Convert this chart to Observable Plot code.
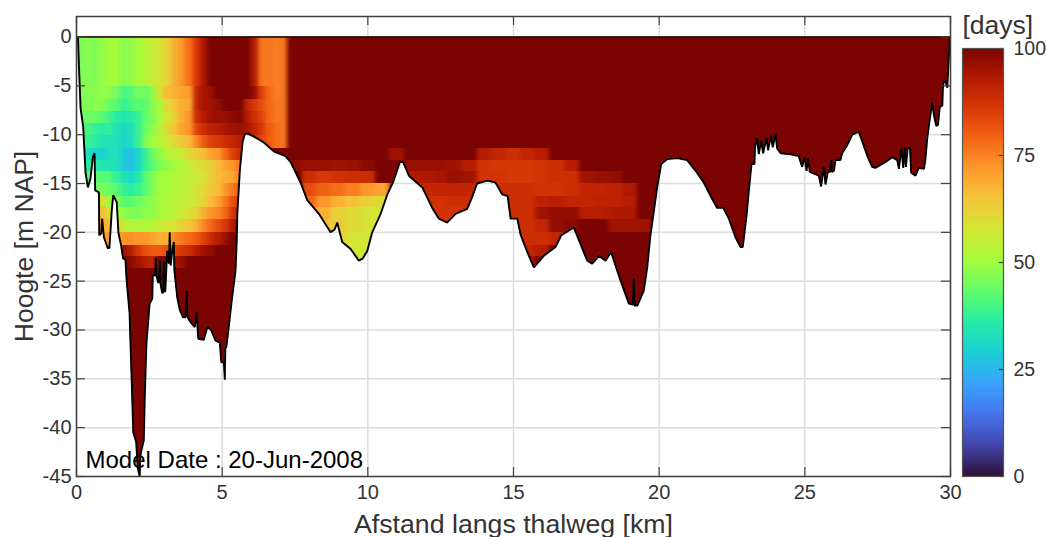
<!DOCTYPE html>
<html><head><meta charset="utf-8">
<style>html,body{margin:0;padding:0;background:#fff;overflow:hidden}#wrap{position:relative;width:1047px;height:537px}#wrap svg{position:absolute;top:0;overflow:visible}</style>
<script src="https://cdn.jsdelivr.net/npm/d3@7"></script>
<script src="https://cdn.jsdelivr.net/npm/@observablehq/plot@0.6"></script>
</head><body><div id="wrap"></div>
<script>
const xTicks=[0,5,10,15,20,25,30];
const yTicks=[0,-5,-10,-15,-20,-25,-30,-35,-40,-45];
const barTicks=[0,25,50,75,100];
const xLabel="Afstand langs thalweg [km]";
const yLabel="Hoogte [m NAP]";
const barLabel="[days]";
const dateLabel="Model Date : 20-Jun-2008";
const colorDomain=[0,7.1,14.3,21.4,28.6,35.7,42.9,50,57.1,64.3,71.4,78.6,85.7,92.9,100];
const colorRange=["#30123b","#4145ab","#4675ed","#39a2fc","#1bcfd4","#24eca6","#61fc6c","#a4fc3b","#d1e834","#f3c63a","#fe9b2d","#f36315","#d93806","#b11901","#7a0402"];

const layerZ=[0,-5.1,-6.4,-7.6,-8.9,-10.1,-11.4,-12.6,-13.8,-15,-16.3,-17.5,-18.7,-20,-21.3,-22.5,-23.7];
const leftEdges=[0,.25,.5,.75,1,1.25,1.5,1.75,2,2.25,2.5,2.75,3,3.25,3.5,3.75,4,4.25,4.5,4.75,5,5.25,5.5,5.75,6,6.25,6.5,6.75,7,7.25];
const leftDays=[
[45,47,46,48,50,50,47,48,50,53,55,58,62,68,72,77,86,93,100,100,100,100,100,100,92,76,76,75,76],
[46,47,47,48,48,45,40,41,45,44,48,58,66,68,70,71,90,94,96,100,100,100,100,100,96,84,78,75,76],
[46,46,47,47,44,42,38,40,42,42,47,50,60,64,68,69,90,94,95,97,100,100,100,90,86,82,78,76,76],
[44,44,44,42,40,36,34,35,38,43,46,50,58,62,68,72,88,92,95,96,96,98,99,92,88,84,78,76,76],
[42,40,38,36,37,34,31,32,38,44,48,52,60,65,70,72,84,88,91,92,94,95,96,94,90,86,80,77,76],
[40,38,36,34,33,33,30,31,38,46,50,52,56,60,64,66,74,80,84,86,88,90,92,93,88,84,80,77,76],
[36,33,30,29,32,33,28,26,30,38,44,48,52,54,56,60,63,66,70,72,78,84,88],
[40,36,36,34,34,33,28,26,30,38,42,46,48,50,52,55,58,60,62,66,70,72,76],
[42,42,42,42,42,38,33,31,35,42,46,50,50,52,53,54,56,58,62,66,68,70,74],
[46,46,44,46,44,42,38,36,38,42,46,50,50,52,53,55,58,60,64,66,72,76,80],
[60,60,60,60,50,46,42,42,44,46,48,50,52,53,54,56,58,62,66,70,76,82,86],
[66,66,66,66,60,50,48,46,46,48,48,50,52,53,56,58,62,68,72,74,78,86,92],
[70,70,70,70,66,62,55,52,52,52,52,55,57,58,62,64,68,74,78,82,86,92,100],
[72,72,72,72,72,72,72,73,72,72,70,68,68,74,76,78,80,84,88,92,96,100,100],
[80,80,80,80,80,82,96,92,86,82,80,80,82,84,86,88,92,95,97,100,100,100,100],
[100,100,100,100,100,100,100,98,95,92,90,100,100,94,96,100,100,100,100,100,100,100,100]
];
const rightEdges=[7.25,7.75,8.25,8.75,9.25,9.75,10.25,10.75,11.25,11.75,12.25,12.75,13.25,13.75,14.25,14.75,15.25,15.75,16.25,16.75,17.25,17.75,18.25,18.75,19.25,19.75,20.25,20.75];
const rightDays=[
[],[],[],[],[],[],
[100,100,100,100,100,100,100,95,100,100,100,100,100,92,90,88,90,92],
[97,96,96,95,96,98,100,100,96,96,96,95,92,87,86,86,86,87,88,92],
[100,88,86,87,88,88,100,100,93,93,94,96,95,87,87,86,86,87,88,88,95,96,97],
[100,82,79,77,75,72,70,92,92,90,90,90,90,88,88,88,88,87,87,88,90,90,91,93],
[100,78,72,68,65,62,60,90,90,88,87,88,88,88,88,88,88,91,92,90,90,91,91,92],
[100,72,68,62,60,58,58,90,90,88,87,87,87,88,88,88,88,95,97,97,92,92,93,93],
[100,70,66,63,60,58,58,90,90,87,87,87,87,88,88,88,88,90,97,98,100,100,95,95,95],
[100,70,66,62,58,57,57,90,90,87,88,88,88,88,88,88,88,88,90],
[100,70,66,60,57,57,57,90,90,90,90,90,90,90,90,90,90,92],
[100,70,66,60,57,57,57,90,90,90,90,90,90,90,90,90,94]
];

const bedX=[.05,.08,.14,.23,.31,.39,.48,.56,.62,.64,.77,.78,.85,.88,.94,1.07,1.13,1.21,1.26,1.38,1.44,1.53,1.6,1.68,1.72,1.82,1.88,1.95,2.05,2.1,2.17,2.19,2.23,2.31,2.34,2.4,2.51,2.6,2.62,2.71,2.72,2.74,2.81,2.86,2.88,2.94,2.97,3,3.02,3.05,3.11,3.17,3.2,3.23,3.28,3.34,3.36,3.46,3.55,3.66,3.74,3.78,3.81,3.94,4.06,4.12,4.18,4.37,4.49,4.62,4.77,4.92,4.97,5.06,5.09,5.11,5.14,5.23,5.32,5.46,5.5,5.52,5.61,5.7,5.78,5.88,6.09,6.43,6.77,7.17,7.35,7.69,7.92,8.32,8.72,8.86,8.95,9.12,9.41,9.69,9.82,9.98,10.15,10.44,10.66,10.89,11.1,11.21,11.41,11.87,12.21,12.44,12.72,13.01,13.41,13.58,13.75,14.1,14.38,14.61,14.8,14.9,15.13,15.24,15.47,15.7,16.04,16.44,16.64,17.07,17.3,17.53,17.7,17.93,18.16,18.35,18.5,18.67,18.96,19.09,19.13,19.15,19.25,19.47,19.59,19.7,19.82,19.93,20.07,20.28,20.62,20.96,21.25,21.53,21.82,21.99,22.2,22.39,22.62,22.79,22.87,23,23.08,23.17,23.27,23.29,23.36,23.42,23.5,23.57,23.68,23.74,23.84,23.9,23.99,24.05,24.17,24.51,24.79,24.91,24.99,25.06,25.11,25.17,25.31,25.48,25.56,25.65,25.71,25.79,25.88,25.91,25.93,26,26.05,26.22,26.28,26.45,26.63,26.85,27.02,27.16,27.31,27.42,27.77,28,28.17,28.23,28.31,28.38,28.42,28.47,28.53,28.61,28.65,28.8,28.91,29.09,29.14,29.2,29.29,29.37,29.43,29.51,29.57,29.63,29.72,29.74,29.77,29.83,29.89,29.92,29.96,29.98];
const bedZ=[0,-2.7,-7.3,-9.2,-13.9,-15.4,-14.5,-12.3,-11.9,-15.7,-15.9,-20.3,-20.1,-18.6,-20.5,-21.6,-21.6,-17.8,-16.2,-16.9,-20.1,-21.3,-22.7,-22.8,-24.9,-28.2,-33.8,-40.5,-41.5,-44.1,-45,-42.9,-42.3,-41.3,-37.2,-31.4,-27.3,-26.8,-24.4,-24.4,-22.6,-24.4,-25.2,-22.9,-25.2,-26.2,-26.2,-22.9,-26.1,-26,-21.9,-23.2,-20,-23.4,-22.1,-21,-23.9,-26.7,-28,-28.7,-28.7,-26,-28.7,-29.3,-29.7,-28.2,-30.9,-31,-29.7,-30,-31.1,-31.3,-33.3,-33.3,-35.1,-31.8,-31.8,-29.6,-27.2,-23.9,-20.8,-18.1,-13.5,-10.8,-9.9,-9.9,-10.2,-10.8,-11.7,-12.2,-12.8,-14.9,-16.7,-18.1,-20,-19.7,-19,-21,-21.7,-22.9,-22.7,-21.9,-20,-18.1,-16.2,-14.7,-12.8,-12.8,-14.2,-15.4,-17.5,-18.6,-19,-18.1,-17.6,-16.4,-15,-14.7,-14.9,-16.1,-16.3,-18.6,-18.6,-20.2,-22,-23.6,-22.4,-21.5,-20.3,-19.5,-21.2,-22.9,-23.2,-22.4,-22.9,-22,-23.4,-24.9,-27.3,-27.4,-24.7,-27.5,-27.5,-26,-23.6,-20.3,-17.8,-15.4,-13,-12.5,-12.4,-12.6,-13.7,-14.9,-16.6,-17.5,-17.5,-18.6,-20.5,-21.5,-21.5,-18.3,-15.7,-13,-13,-11.3,-10.3,-12,-10.6,-11.9,-10.3,-11.6,-10.1,-11.3,-9.9,-11.4,-11.9,-12,-12.2,-13.3,-12.3,-13.7,-12.4,-13.8,-14,-14.2,-15.3,-13.3,-15.1,-13.8,-13.8,-12.6,-13.8,-13.7,-12.6,-12.6,-11.9,-11.1,-10,-9.7,-11.1,-12.3,-13.3,-13.4,-12.8,-12.3,-12.6,-13.5,-11.4,-13.4,-11.3,-13.3,-11.4,-11.3,-13.9,-14.2,-13.4,-13.5,-12.5,-10.4,-8.4,-6.7,-8,-9.1,-9,-7.2,-7,-5.2,-4.6,-4.5,-5.2,-3.4,-1.1,0];

const frameColor="#404040", textColor="#333333", gridColor="#dcdcdc";
const fontFamily="'Liberation Sans',Arial,sans-serif";
const colorScale={type:"linear",domain:colorDomain,range:colorRange};

const cells=[{x1:-1,x2:31,y1:3,y2:-46,v:100}];
function addCells(edges,rows){
  rows.forEach((row,j)=>row.forEach((v,i)=>{
    if(v!==100) cells.push({x1:edges[i],x2:edges[i+1],y1:layerZ[j],y2:layerZ[j+1],v});
  }));
}
addCells(leftEdges,leftDays);
addCells(rightEdges,rightDays);

const bed=bedX.map((x,i)=>({x,z:bedZ[i]}));

function clipToBed(index,scales,values,dimensions,context,next){
  const inner=next(index,scales,values,dimensions,context);
  const pts=[[0,0],...bed.map(d=>[d.x,d.z]),[30,0]].map(([x,z])=>[scales.x(x),scales.y(z)]);
  const ns="http://www.w3.org/2000/svg";
  const g=document.createElementNS(ns,"g");
  const cp=document.createElementNS(ns,"clipPath");cp.setAttribute("id","bedclip");
  const p=document.createElementNS(ns,"path");p.setAttribute("d",d3.line()(pts)+"Z");
  cp.appendChild(p);
  const f=document.createElementNS(ns,"filter");f.setAttribute("id","soften");
  f.setAttribute("x","-2%");f.setAttribute("y","-2%");f.setAttribute("width","104%");f.setAttribute("height","104%");
  f.setAttribute("color-interpolation-filters","sRGB");
  const b=document.createElementNS(ns,"feGaussianBlur");b.setAttribute("stdDeviation","2.2 0.5");
  f.appendChild(b);
  g.appendChild(cp);g.appendChild(f);
  inner.setAttribute("filter","url(#soften)");
  g.setAttribute("clip-path","url(#bedclip)");
  g.appendChild(inner);
  return g;
}

const tickX=0.31, tickY=0.92;
const main=Plot.plot({
  width:1047,height:537,marginLeft:76,marginRight:97,marginTop:16,marginBottom:61,
  style:{fontFamily,background:"transparent",overflow:"visible"},
  x:{domain:[0,30]},y:{domain:[-45,2.1]},color:colorScale,
  marks:[
    Plot.ruleX(xTicks,{stroke:gridColor,strokeWidth:1.5}),
    Plot.ruleY(yTicks,{stroke:gridColor,strokeWidth:1.5}),
    Plot.rect(cells,{x1:"x1",x2:"x2",y1:"y1",y2:"y2",fill:"v",shapeRendering:"crispEdges",clip:false,render:clipToBed}),
    Plot.line(bed,{x:"x",y:"z",stroke:"#000",strokeWidth:1.9,strokeLinejoin:"miter"}),
    Plot.ruleY([0],{x1:0,x2:30,stroke:"#111",strokeWidth:1.5}),
    Plot.ruleX(xTicks,{y1:-45,y2:-45+tickY,stroke:frameColor,strokeWidth:1.2}),
    Plot.ruleX(xTicks,{y1:2.1-tickY,y2:2.1,stroke:frameColor,strokeWidth:1.2}),
    Plot.ruleY(yTicks,{x1:0,x2:tickX,stroke:frameColor,strokeWidth:1.2}),
    Plot.ruleY(yTicks,{x1:30-tickX,x2:30,stroke:frameColor,strokeWidth:1.2}),
    Plot.frame({stroke:frameColor,strokeWidth:1.5}),
    Plot.axisX({ticks:xTicks,tickSize:0,tickPadding:8,fontSize:20,label:null,color:textColor,tickFormat:d=>String(d)}),
    Plot.axisY({ticks:yTicks,tickSize:0,tickPadding:5,fontSize:20,label:null,color:textColor,tickFormat:d=>String(d)}),
    Plot.text([dateLabel],{x:()=>0.31,y:()=>-43.3,text:d=>d,textAnchor:"start",fontSize:24,fill:"#000"}),
    Plot.text([xLabel],{frameAnchor:"bottom",text:d=>d,dy:56,fontSize:26.7,fill:textColor}),
    Plot.text([yLabel],{frameAnchor:"left",text:d=>d,rotate:-90,textAnchor:"middle",dx:-52,fontSize:26.5,fill:textColor})
  ]
});

const barDays=d3.range(0,100,0.5);
const bar=Plot.plot({
  width:85,height:537,marginLeft:0,marginRight:44,marginTop:48,marginBottom:61,
  style:{fontFamily,background:"transparent",overflow:"visible"},
  x:{domain:[0,1],axis:null},y:{domain:[0,100]},color:colorScale,
  marks:[
    Plot.rect(barDays,{x1:()=>0,x2:()=>1,y1:d=>d,y2:d=>d+0.5,fill:d=>d,shapeRendering:"crispEdges"}),
    Plot.ruleY(barTicks,{x1:0.9,x2:1,stroke:"#404040",strokeWidth:1.2}),
    Plot.frame({stroke:"#555",strokeWidth:1.2}),
    Plot.axisY({anchor:"right",ticks:barTicks,tickSize:0,tickPadding:10,fontSize:19.5,label:null,color:textColor,tickFormat:d=>String(d)}),
    Plot.text([barLabel],{frameAnchor:"top-left",text:d=>d,dy:-33,fontSize:26.5,fill:textColor,textAnchor:"start"})
  ]
});
bar.style.left="962px";
const w=document.getElementById("wrap");
w.appendChild(main);w.appendChild(bar);
</script></body></html>
